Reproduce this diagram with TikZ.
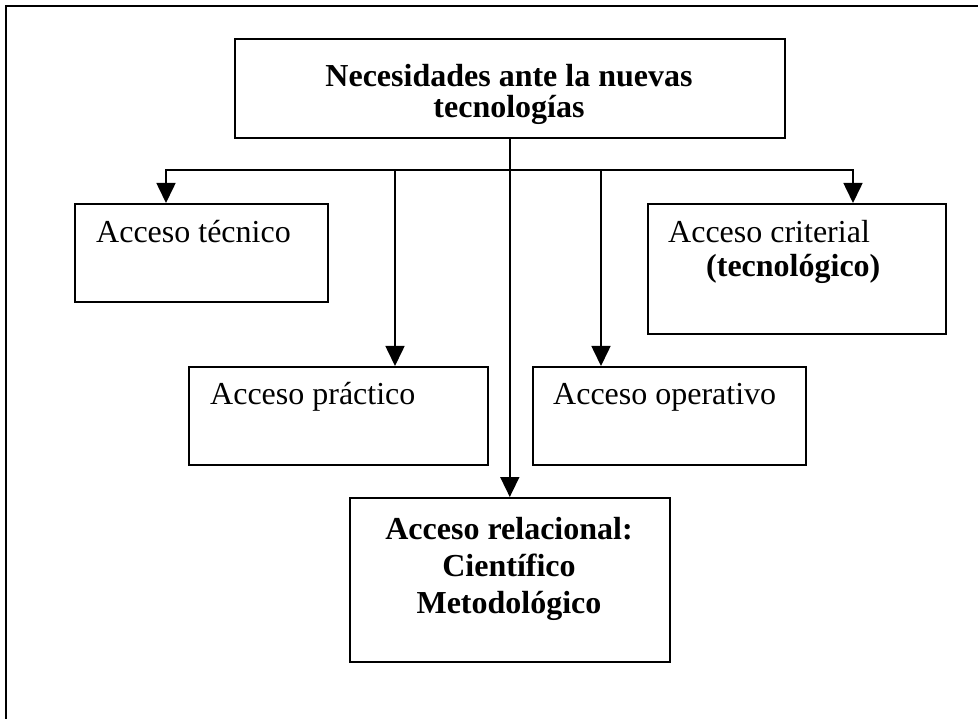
\documentclass[tikz,border=0pt]{standalone}
\usepackage{fontspec}
\setmainfont{Liberation Serif}
\usetikzlibrary{arrows.meta}

\begin{document}
\begin{tikzpicture}[x=1pt,y=-1pt,
	caja/.style={draw, line width=1.6pt, inner sep=0pt, anchor=north west},
	texto/.style={inner sep=0pt, font=\fontsize{32}{37}\selectfont},
	linea/.style={line width=1.6pt},
	flecha/.style={line width=1.6pt, -{Triangle[length=20pt,width=19pt]}}]

% frame %{{{2

	\useasboundingbox (0,0) rectangle (978,719);
	\draw[line width=2pt] (6,725) -- (6,6) -- (985,6);

% boxes %{{{2

	\node[caja, minimum width=550pt, minimum height=99pt]  (titulo)     at (234,38)  {};
	\node[caja, minimum width=253pt, minimum height=98pt]  (tecnico)    at (74,203)  {};
	\node[caja, minimum width=298pt, minimum height=130pt] (criterial)  at (647,203) {};
	\node[caja, minimum width=299pt, minimum height=98pt]  (practico)   at (188,366) {};
	\node[caja, minimum width=273pt, minimum height=98pt]  (operativo)  at (532,366) {};
	\node[caja, minimum width=320pt, minimum height=164pt] (relacional) at (349,497) {};

% texts %{{{2

	% ---- base anchor sits on the last line

	\node[texto, anchor=base, align=center, font=\fontsize{32}{31}\selectfont\bfseries]
		(tituloT) at (509,118) {Necesidades ante la nuevas\\tecnologías};
	\node[texto, anchor=base west] (tecnicoT)   at (96,243)  {Acceso técnico};
	\node[texto, anchor=base west] (criterialT) at (668,243) {Acceso criterial};
	\node[texto, anchor=base west, font=\fontsize{32}{37}\selectfont\bfseries]
		(tecnologicoT) at (706,277) {(tecnológico)};
	\node[texto, anchor=base west] (practicoT)  at (210,405) {Acceso práctico};
	\node[texto, anchor=base west] (operativoT) at (553,405) {Acceso operativo};
	\node[texto, anchor=base, align=center, font=\fontsize{32}{37}\selectfont\bfseries]
		(relacionalT) at (509,613) {Acceso relacional:\\Científico\\Metodológico};

% connectors %{{{2

	\coordinate (bTec) at (166,170);
	\coordinate (bPra) at (395,170);
	\coordinate (bOpe) at (601,170);
	\coordinate (bCri) at (853,170);

	\draw[flecha] (bPra) -- (bTec) -- (bTec |- tecnico.north);
	\draw[flecha] (bOpe) -- (bCri) -- (bCri |- criterial.north);
	\draw[linea] (bPra) -- (bOpe);
	\draw[flecha] (bPra) -- (bPra |- practico.north);
	\draw[flecha] (bOpe) -- (bOpe |- operativo.north);

	% ---- central stem

	\draw[flecha] (titulo.south) -- (relacional.north);

\end{tikzpicture}
\end{document}
